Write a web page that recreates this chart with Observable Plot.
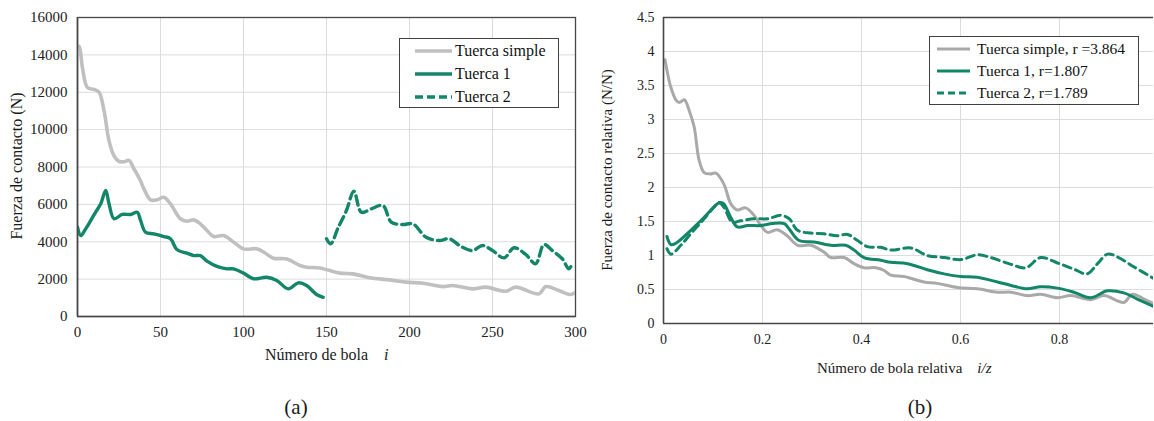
<!DOCTYPE html>
<html>
<head>
<meta charset="utf-8">
<script src="https://cdn.jsdelivr.net/npm/d3@7"></script>
<script src="https://cdn.jsdelivr.net/npm/@observablehq/plot@0.6"></script>
<style>
  html, body { margin: 0; padding: 0; background: #fff; }
  #fig { position: relative; width: 1154px; height: 421px; font-family: "Liberation Serif", "Times New Roman", Times, "Tinos", "DejaVu Serif", "Noto Serif", serif; color: #111; overflow: hidden; }
  #fig svg.plot { position: absolute; top: 0; }
  #fig svg.plot text { font-family: "Liberation Serif", "Times New Roman", Times, "Tinos", "DejaVu Serif", "Noto Serif", serif; }
  .ttl { position: absolute; white-space: nowrap; color: #1a1a1a; }
  .legend { position: absolute; background: #fff; border: 1px solid #404040; box-sizing: border-box; }
  .legend .row { position: absolute; display: flex; align-items: center; white-space: nowrap; }
</style>
</head>
<body>
<div id="fig"></div>
<script>
// ---------- Panel (a): contact force vs ball number ----------
const simpleI = [0, 1, 3, 6, 10, 13, 16, 19, 22, 25, 28, 31, 34, 38, 40, 44, 48, 52, 56, 62, 66, 70, 74, 78, 82, 88, 94, 100, 108, 113, 118, 126, 134, 138, 146, 158, 166, 176, 188, 198, 208, 220, 226, 238, 246, 258, 264, 278, 282, 290, 297, 300];
const simpleF = [14400, 14450, 13300, 12250, 12150, 12000, 11000, 9400, 8600, 8300, 8280, 8350, 7900, 7250, 6830, 6240, 6250, 6380, 6030, 5230, 5100, 5170, 4960, 4600, 4280, 4330, 3980, 3620, 3620, 3400, 3120, 3080, 2730, 2640, 2600, 2320, 2280, 2070, 1960, 1840, 1780, 1600, 1660, 1480, 1570, 1350, 1570, 1210, 1600, 1390, 1180, 1300];
const t1I = [0, 2, 5, 8, 11, 14, 17, 19, 22, 27, 32, 36, 38, 41, 46, 52, 56, 60, 66, 70, 74, 78, 84, 90, 94, 100, 106, 114, 120, 127, 133, 138, 144, 148];
const t1F = [4780, 4330, 4700, 5140, 5600, 6030, 6740, 6030, 5230, 5460, 5460, 5580, 5140, 4510, 4420, 4280, 4160, 3570, 3390, 3260, 3260, 2960, 2680, 2550, 2550, 2320, 2020, 2100, 1930, 1480, 1800, 1660, 1180, 1030];
const t2I = [150, 152.5, 157, 162, 166.5, 171, 177, 184, 189, 196, 202, 210, 218, 224, 231, 238, 244, 250, 257, 263, 270, 276, 281, 286, 292, 296, 298];
const t2F = [4160, 3890, 4750, 5670, 6700, 5580, 5760, 5940, 5050, 4920, 4960, 4240, 4070, 4160, 3750, 3530, 3800, 3530, 3140, 3680, 3320, 2820, 3850, 3530, 3090, 2550, 2820];
const xTicksA = [0, 50, 100, 150, 200, 250, 300];
const yTicksA = [0, 2000, 4000, 6000, 8000, 10000, 12000, 14000, 16000];

// ---------- Panel (b): relative contact force vs relative ball number ----------
const simpleR = [0.003, 0.015, 0.025, 0.032, 0.042, 0.052, 0.062, 0.072, 0.082, 0.094, 0.106, 0.122, 0.136, 0.149, 0.166, 0.183, 0.197, 0.21, 0.23, 0.25, 0.271, 0.298, 0.324, 0.338, 0.365, 0.385, 0.405, 0.429, 0.446, 0.459, 0.486, 0.526, 0.553, 0.594, 0.634, 0.675, 0.702, 0.735, 0.762, 0.796, 0.823, 0.863, 0.89, 0.93, 0.947, 0.971, 0.991];
const simpleV = [3.88, 3.47, 3.29, 3.25, 3.29, 3.13, 2.89, 2.40, 2.22, 2.20, 2.21, 2.05, 1.76, 1.67, 1.70, 1.59, 1.44, 1.34, 1.38, 1.29, 1.15, 1.15, 1.05, 0.97, 0.97, 0.88, 0.82, 0.82, 0.78, 0.71, 0.69, 0.61, 0.59, 0.53, 0.51, 0.46, 0.46, 0.41, 0.43, 0.38, 0.41, 0.35, 0.41, 0.31, 0.43, 0.36, 0.29];
const t1R = [0.007, 0.015, 0.025, 0.055, 0.082, 0.109, 0.116, 0.122, 0.136, 0.149, 0.17, 0.197, 0.22, 0.244, 0.254, 0.274, 0.304, 0.338, 0.368, 0.385, 0.405, 0.439, 0.459, 0.493, 0.533, 0.567, 0.601, 0.634, 0.675, 0.702, 0.735, 0.762, 0.796, 0.829, 0.863, 0.897, 0.93, 0.957, 0.99];
const t1V = [1.28, 1.16, 1.18, 1.37, 1.56, 1.76, 1.78, 1.76, 1.56, 1.42, 1.44, 1.44, 1.47, 1.47, 1.39, 1.22, 1.20, 1.15, 1.15, 1.08, 0.97, 0.93, 0.90, 0.88, 0.79, 0.73, 0.69, 0.68, 0.61, 0.56, 0.51, 0.54, 0.52, 0.46, 0.38, 0.48, 0.45, 0.36, 0.25];
const t2R = [0.007, 0.015, 0.035, 0.055, 0.082, 0.102, 0.112, 0.122, 0.139, 0.156, 0.183, 0.21, 0.237, 0.254, 0.271, 0.298, 0.324, 0.351, 0.372, 0.392, 0.412, 0.439, 0.459, 0.5, 0.533, 0.567, 0.601, 0.634, 0.661, 0.702, 0.732, 0.762, 0.796, 0.829, 0.856, 0.877, 0.897, 0.917, 0.951, 0.991];
const t2V = [1.10, 1.02, 1.15, 1.32, 1.54, 1.71, 1.78, 1.71, 1.49, 1.51, 1.54, 1.54, 1.59, 1.54, 1.37, 1.33, 1.32, 1.29, 1.31, 1.22, 1.13, 1.12, 1.08, 1.11, 1.00, 0.97, 0.94, 1.01, 0.97, 0.87, 0.82, 0.97, 0.89, 0.80, 0.73, 0.88, 1.02, 0.98, 0.83, 0.66];
const xTicksB = [0, 0.2, 0.4, 0.6, 0.8];
const yTicksB = [0, 0.5, 1, 1.5, 2, 2.5, 3, 3.5, 4, 4.5];

const legendA = ["Tuerca simple", "Tuerca 1", "Tuerca 2"];
const legendB = ["Tuerca simple, r =3.864", "Tuerca 1, r=1.807", "Tuerca 2, r=1.789"];

const GREEN = "#138669";
const GRAY_A = "#c0c0c0";
const GRAY_B = "#a9a9a9";
const GRID = "#dcdcdc";
const AXIS = "#474747";
const SERIF = "'Liberation Serif', 'Times New Roman', Times, Tinos, 'DejaVu Serif', 'Noto Serif', serif";

const zip = (xs, ys) => xs.map((x, k) => ({x, y: ys[k]}));
const fig = document.getElementById("fig");

// ---- Panel (a) ----
const plotA = Plot.plot({
  width: 590, height: 340,
  marginLeft: 77, marginRight: 15, marginTop: 17, marginBottom: 24,
  style: {fontFamily: SERIF, fontSize: "15px", color: "#222", background: "transparent"},
  x: {domain: [0, 300], ticks: xTicksA, tickSize: 0, tickPadding: 10, label: null, tickFormat: d => String(d)},
  y: {domain: [0, 16000], ticks: yTicksA, tickSize: 0, tickPadding: 10, label: null, tickFormat: d => String(d)},
  marks: [
    Plot.gridX(xTicksA, {stroke: GRID, strokeOpacity: 1, strokeWidth: 1}),
    Plot.gridY(yTicksA, {stroke: GRID, strokeOpacity: 1, strokeWidth: 1}),
    Plot.frame({stroke: AXIS, strokeWidth: 1.3}),
    Plot.line(zip(simpleI, simpleF), {x: "x", y: "y", stroke: GRAY_A, strokeWidth: 3.6, curve: "catmull-rom", clip: true}),
    Plot.line(zip(t1I, t1F), {x: "x", y: "y", stroke: GREEN, strokeWidth: 3.4, curve: "catmull-rom", clip: true}),
    Plot.line(zip(t2I, t2F), {x: "x", y: "y", stroke: GREEN, strokeWidth: 3.4, strokeDasharray: "9,5", curve: "catmull-rom", clip: true}),
    Plot.ruleX([0], {stroke: AXIS, strokeWidth: 1.6}),
    Plot.ruleY([0], {stroke: AXIS, strokeWidth: 1.6})
  ]
});
plotA.classList.add("plot");
plotA.style.left = "0px";
fig.appendChild(plotA);

// ---- Panel (b) ----
const plotB = Plot.plot({
  width: 564, height: 350,
  marginLeft: 73, marginRight: 1, marginTop: 17, marginBottom: 27,
  style: {fontFamily: SERIF, fontSize: "14px", color: "#222", background: "transparent"},
  x: {domain: [0, 0.99], ticks: xTicksB, tickSize: 0, tickPadding: 11, label: null, tickFormat: d => String(d)},
  y: {domain: [0, 4.5], ticks: yTicksB, tickSize: 0, tickPadding: 9, label: null, tickFormat: d => String(d)},
  marks: [
    Plot.gridX(xTicksB, {stroke: GRID, strokeOpacity: 1, strokeWidth: 1}),
    Plot.gridY(yTicksB, {stroke: GRID, strokeOpacity: 1, strokeWidth: 1}),
    Plot.ruleY([4.5], {stroke: AXIS, strokeWidth: 1.3}),
    Plot.line(zip(simpleR, simpleV), {x: "x", y: "y", stroke: GRAY_B, strokeWidth: 3, curve: "catmull-rom", clip: true}),
    Plot.line(zip(t1R, t1V), {x: "x", y: "y", stroke: GREEN, strokeWidth: 3, curve: "catmull-rom", clip: true}),
    Plot.line(zip(t2R, t2V), {x: "x", y: "y", stroke: GREEN, strokeWidth: 3, strokeDasharray: "8,5", curve: "catmull-rom", clip: true}),
    Plot.ruleX([0], {stroke: AXIS, strokeWidth: 1.6}),
    Plot.ruleY([0], {stroke: AXIS, strokeWidth: 1.6})
  ]
});
plotB.classList.add("plot");
plotB.style.left = "590px";
fig.appendChild(plotB);

// ---- Titles ----
function addText(html, css) {
  const d = document.createElement("div");
  d.className = "ttl";
  d.innerHTML = html;
  Object.assign(d.style, css);
  fig.appendChild(d);
  return d;
}
addText("Fuerza de contacto (N)", {left: "17px", top: "166px", fontSize: "16px", transform: "translate(-50%,-50%) rotate(-90deg)"});
addText("Fuerza de contacto relativa (N/N)", {left: "607px", top: "170px", fontSize: "15px", transform: "translate(-50%,-50%) rotate(-90deg)"});
addText("Número de bola&nbsp;&nbsp;&nbsp; <i>i</i>", {left: "265px", top: "355px", fontSize: "16px", transform: "translateY(-50%)"});
addText("Número de bola relativa&nbsp;&nbsp;&nbsp; <i>i/z</i>", {left: "817px", top: "368px", fontSize: "15px", transform: "translateY(-50%)"});
addText("(a)", {left: "296px", top: "407px", fontSize: "21px", transform: "translate(-50%,-50%)"});
addText("(b)", {left: "920px", top: "407px", fontSize: "21px", transform: "translate(-50%,-50%)"});

// ---- Legends ----
function legend(box, labels, styles, rowYs, x0, x1, tx, fs) {
  const L = document.createElement("div");
  L.className = "legend";
  Object.assign(L.style, {left: box[0] + "px", top: box[1] + "px", width: (box[2] - box[0]) + "px", height: (box[3] - box[1]) + "px"});
  labels.forEach((lab, k) => {
    const svgNS = "http://www.w3.org/2000/svg";
    const s = document.createElementNS(svgNS, "svg");
    s.setAttribute("width", x1 - x0);
    s.setAttribute("height", 8);
    s.style.position = "absolute";
    s.style.left = (x0 - box[0] - 1) + "px";
    s.style.top = (rowYs[k] - box[1] - 1 - 4) + "px";
    const ln = document.createElementNS(svgNS, "line");
    ln.setAttribute("x1", 0); ln.setAttribute("x2", x1 - x0);
    ln.setAttribute("y1", 4); ln.setAttribute("y2", 4);
    ln.setAttribute("stroke", styles[k].stroke);
    ln.setAttribute("stroke-width", styles[k].width);
    if (styles[k].dash) ln.setAttribute("stroke-dasharray", styles[k].dash);
    s.appendChild(ln);
    L.appendChild(s);
    const t = document.createElement("div");
    t.className = "row";
    t.textContent = lab;
    Object.assign(t.style, {left: (tx - box[0] - 1) + "px", top: (rowYs[k] - box[1] - 1) + "px", transform: "translateY(-50%)", fontSize: fs + "px", lineHeight: "1"});
    L.appendChild(t);
  });
  fig.appendChild(L);
}
legend([399, 38, 559, 108], legendA,
  [{stroke: GRAY_A, width: 3.6}, {stroke: GREEN, width: 3.4}, {stroke: GREEN, width: 3.4, dash: "8,4"}],
  [51, 74, 97], 415, 452, 455, 16);
legend([929, 36, 1139, 105], legendB,
  [{stroke: GRAY_B, width: 3}, {stroke: GREEN, width: 3}, {stroke: GREEN, width: 3, dash: "7,4"}],
  [49, 71, 93], 937, 970, 977, 15.5);
</script>
</body>
</html>
